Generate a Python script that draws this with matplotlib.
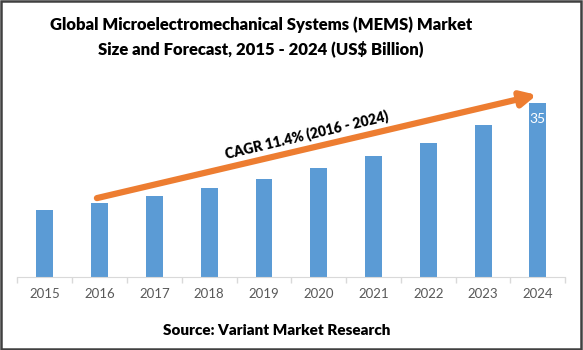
import matplotlib.pyplot as plt
from matplotlib.patches import Rectangle

plt.rcParams['font.family'] = ['Lato', 'DejaVu Sans']

years = ['2015', '2016', '2017', '2018', '2019', '2020', '2021', '2022', '2023', '2024']
market_size = [13.4, 14.9, 16.3, 17.8, 19.7, 21.9, 24.3, 27.0, 30.5, 35.0]

fig = plt.figure(figsize=(5.83, 3.5), dpi=100)
ax = fig.add_axes([0.030, 0.21, 0.9396, 0.567])

x = list(range(len(years)))
ax.bar(x, market_size, width=0.31, color='#5B9BD5', zorder=2)
ax.set_xlim(-0.5, len(years) - 0.5)
ax.set_ylim(0, 40)

# category boundary ticks, labels centred under bars
ax.set_xticks([i - 0.5 for i in range(len(years) + 1)])
ax.set_xticklabels([])
ax.set_xticks(x, minor=True)
ax.set_xticklabels(years, minor=True, fontsize=9.5, color='#595959')
ax.tick_params(axis='x', which='major', length=4, color='#D9D9D9', width=1)
ax.tick_params(axis='x', which='minor', length=0, pad=8)
ax.set_yticks([])
for side in ['left', 'right', 'top']:
    ax.spines[side].set_visible(False)
ax.spines['bottom'].set_color('#D9D9D9')

# last bar value
ax.text(x[-1], market_size[-1] - 3.3, '35', color='white', fontsize=10,
        ha='center', va='center')

# CAGR arrow
ax.annotate('', xy=(x[-1] - 0.02, market_size[-1] + 1.6),
            xytext=(x[1] - 0.05, market_size[1] + 0.9),
            arrowprops=dict(arrowstyle='-|>,head_length=0.9,head_width=0.45',
                        color='#ED7D31', lw=4.5, shrinkA=0, shrinkB=0))
ax.text(4.78, 28.6, 'CAGR 11.4% (2016 - 2024)', fontsize=10, fontweight='heavy',
        rotation=13.3, ha='center', va='center', rotation_mode='anchor')

fig.text(0.448, 0.928, 'Global Microelectromechanical Systems (MEMS) Market',
         ha='center', va='center', fontsize=12, fontweight='heavy')
fig.text(0.448, 0.862, 'Size and Forecast, 2015 - 2024 (US$ Billion)',
         ha='center', va='center', fontsize=12, fontweight='heavy')
fig.text(0.474, 0.057, 'Source: Variant Market Research',
         ha='center', va='center', fontsize=11, fontweight='heavy')

fig.patches.append(Rectangle((0.002, 0.003), 0.995, 0.993, transform=fig.transFigure,
                             fill=False, edgecolor='#404040', lw=1.8))

fig.savefig('out.png', dpi=100)
